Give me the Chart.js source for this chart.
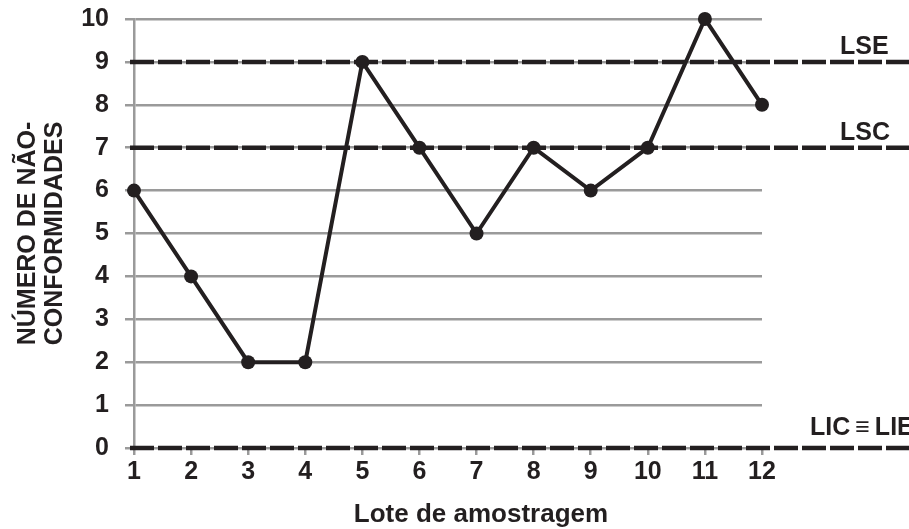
<!DOCTYPE html>
<html>
<head>
<meta charset="utf-8">
<script src="https://cdn.jsdelivr.net/npm/chart.js@4.4.0/dist/chart.umd.min.js"></script>
<style>
  html, body { margin: 0; padding: 0; background: #fff; }
  #wrap { width: 909px; height: 529px; }
</style>
</head>
<body>
<div id="wrap"><canvas id="chart"></canvas></div>
<script>
const lotes = [1, 2, 3, 4, 5, 6, 7, 8, 9, 10, 11, 12];
const naoConformidades = [6, 4, 2, 2, 9, 7, 5, 7, 6, 7, 10, 8];
const limites = [
  { nome: "LSE", valor: 9 },
  { nome: "LSC", valor: 7 },
  { nome: "LIC\u2009\u2261\u2009LIE", valor: 0 }
];
const yTitulo = ["NÚMERO DE NÃO-", "CONFORMIDADES"];
const xTitulo = "Lote de amostragem";

const ink = "#231f20";
const fonte = "'Liberation Sans', Arial, sans-serif";

// linhas tracejadas dos limites + rotulos, vao ate a borda do canvas
const limitesPlugin = {
  id: "limites",
  afterDatasetsDraw(chart) {
    const ctx = chart.ctx;
    const y = chart.scales.y;
    const area = chart.chartArea;
    ctx.save();
    ctx.strokeStyle = ink;
    ctx.lineWidth = 4.5;
    ctx.setLineDash([24, 4]);
    limites.forEach(l => {
      const py = y.getPixelForValue(l.valor);
      ctx.beginPath();
      ctx.moveTo(area.left - 4, py);
      ctx.lineTo(chart.width, py);
      ctx.stroke();
    });
    ctx.setLineDash([]);
    ctx.fillStyle = ink;
    ctx.font = "bold 25px " + fonte;
    ctx.textAlign = "left";
    ctx.textBaseline = "alphabetic";
    limites.forEach(l => {
      const py = y.getPixelForValue(l.valor);
      const px = l.valor === 0 ? 810 : 840;
      ctx.fillText(l.nome, px, py - (l.valor === 0 ? 13 : 8));
    });
    // titulo do eixo x
    ctx.textAlign = "center";
    ctx.font = "bold 26px " + fonte;
    ctx.fillText(xTitulo, 481, 522);
    ctx.restore();
  }
};

new Chart(document.getElementById("chart").getContext("2d"), {
  type: "line",
  data: {
    labels: lotes,
    datasets: [{
      data: naoConformidades,
      borderColor: ink,
      backgroundColor: ink,
      borderWidth: 4,
      pointRadius: 7,
      pointBackgroundColor: ink,
      pointBorderWidth: 0,
      tension: 0,
      clip: false
    }]
  },
  options: {
    responsive: true,
    maintainAspectRatio: false,
    animation: false,
    layout: { padding: { top: 19, right: 147, left: 0, bottom: 0 } },
    plugins: { legend: { display: false }, tooltip: { enabled: false } },
    scales: {
      x: {
        type: "linear",
        min: 1,
        max: 12,
        afterFit(s) { s.height = 81; },
        grid: { drawOnChartArea: false, drawTicks: true, tickLength: 7, color: "#9a9a9a", lineWidth: 2.5 },
        border: { display: false },
        ticks: {
          stepSize: 1,
          padding: 2,
          color: ink,
          font: { family: fonte, size: 25, weight: "bold" }
        }
      },
      y: {
        min: 0,
        max: 10,
        afterFit(s) { s.width = 134; s.paddingTop = 0; s.paddingBottom = 0; },
        grid: { color: "#9a9a9a", lineWidth: 2.5, tickLength: 9 },
        border: { display: true, color: "#9a9a9a", width: 2.5 },
        title: {
          display: true,
          text: yTitulo,
          color: ink,
          padding: { top: 15, bottom: 0 },
          font: { family: fonte, size: 25, weight: "bold", lineHeight: 1.08 }
        },
        ticks: {
          stepSize: 1,
          padding: 16,
          color: ink,
          font: { family: fonte, size: 25, weight: "bold" }
        }
      }
    }
  },
  plugins: [limitesPlugin]
});
</script>
</body>
</html>
